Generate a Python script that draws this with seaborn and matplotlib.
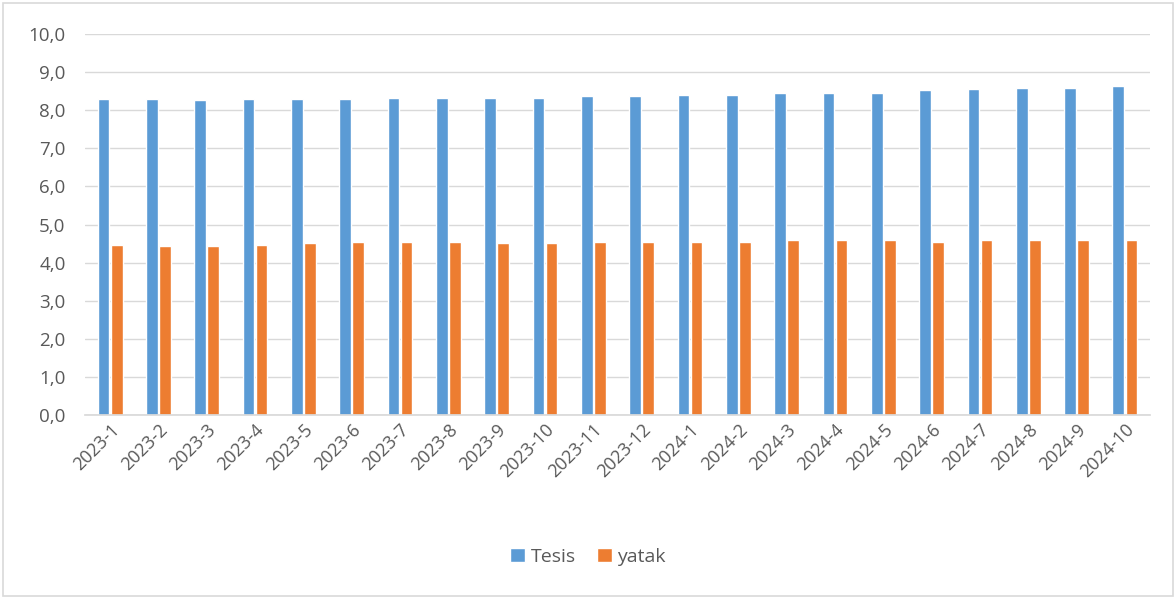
import matplotlib
matplotlib.use("Agg")
import matplotlib.pyplot as plt
import seaborn as sns
import pandas as pd
from matplotlib.ticker import FuncFormatter, MultipleLocator
from matplotlib.patches import Rectangle

categories = ["2023-1", "2023-2", "2023-3", "2023-4", "2023-5", "2023-6", "2023-7", "2023-8",
              "2023-9", "2023-10", "2023-11", "2023-12", "2024-1", "2024-2", "2024-3", "2024-4",
              "2024-5", "2024-6", "2024-7", "2024-8", "2024-9", "2024-10"]
tesis = [8.29, 8.29, 8.26, 8.29, 8.29, 8.29, 8.33, 8.33, 8.33, 8.33, 8.37, 8.37,
         8.40, 8.40, 8.45, 8.45, 8.45, 8.52, 8.55, 8.59, 8.59, 8.63]
yatak = [4.47, 4.44, 4.44, 4.47, 4.51, 4.55, 4.55, 4.55, 4.51, 4.51, 4.55, 4.55,
         4.55, 4.55, 4.59, 4.59, 4.59, 4.55, 4.59, 4.59, 4.59, 4.59]
series_names = ["Tesis", "yatak"]
colors = ["#5B9BD5", "#ED7D31"]

df = pd.DataFrame({
    "cat": categories * 2,
    "val": tesis + yatak,
    "series": [series_names[0]] * len(categories) + [series_names[1]] * len(categories),
})

sns.set_theme(style="white")
plt.rcParams["font.family"] = ["Open Sans", "DejaVu Sans"]
text_color = "#595959"

fig = plt.figure(figsize=(11.76, 5.99), dpi=100)
ax = fig.add_axes([85 / 1176, 1 - 415 / 599, (1150 - 85) / 1176, (415 - 34) / 599])

sns.barplot(data=df, x="cat", y="val", hue="series", palette=colors, ax=ax,
            width=0.54, gap=0.1, saturation=1, legend=True, order=categories)

ax.set_ylim(0, 10)
ax.set_xlim(-0.52, len(categories) - 0.48)
ax.yaxis.set_major_locator(MultipleLocator(1))
ax.yaxis.set_major_formatter(FuncFormatter(lambda v, p: f"{v:.1f}".replace(".", ",")))
ax.grid(axis="y", color="#D9D9D9", linewidth=1)
ax.set_axisbelow(True)
for s in ["top", "right", "left"]:
    ax.spines[s].set_visible(False)
ax.spines["bottom"].set_color("#D9D9D9")
ax.set_xlabel("")
ax.set_ylabel("")
ax.tick_params(axis="y", colors=text_color, labelsize=13.5, length=0, pad=14)
ax.tick_params(axis="x", colors=text_color, labelsize=13, length=0, pad=4)
for lbl in ax.get_xticklabels():
    lbl.set_rotation(45)
    lbl.set_ha("right")
    lbl.set_rotation_mode("anchor")

handles, labels = ax.get_legend_handles_labels()
ax.legend_.remove()
fig.legend(handles, labels, loc="center", bbox_to_anchor=(0.5, 1 - 557 / 599), ncol=2,
           frameon=False, fontsize=14, labelcolor=text_color, handlelength=0.75,
           handleheight=0.75, handletextpad=0.3, columnspacing=1.1)

fig.patches.append(Rectangle((3 / 1176, 3 / 599), 1 - 6 / 1176, 1 - 6 / 599,
                             transform=fig.transFigure, fill=False,
                             edgecolor="#D9D9D9", linewidth=1.2))

fig.savefig("out.png", dpi=100)
